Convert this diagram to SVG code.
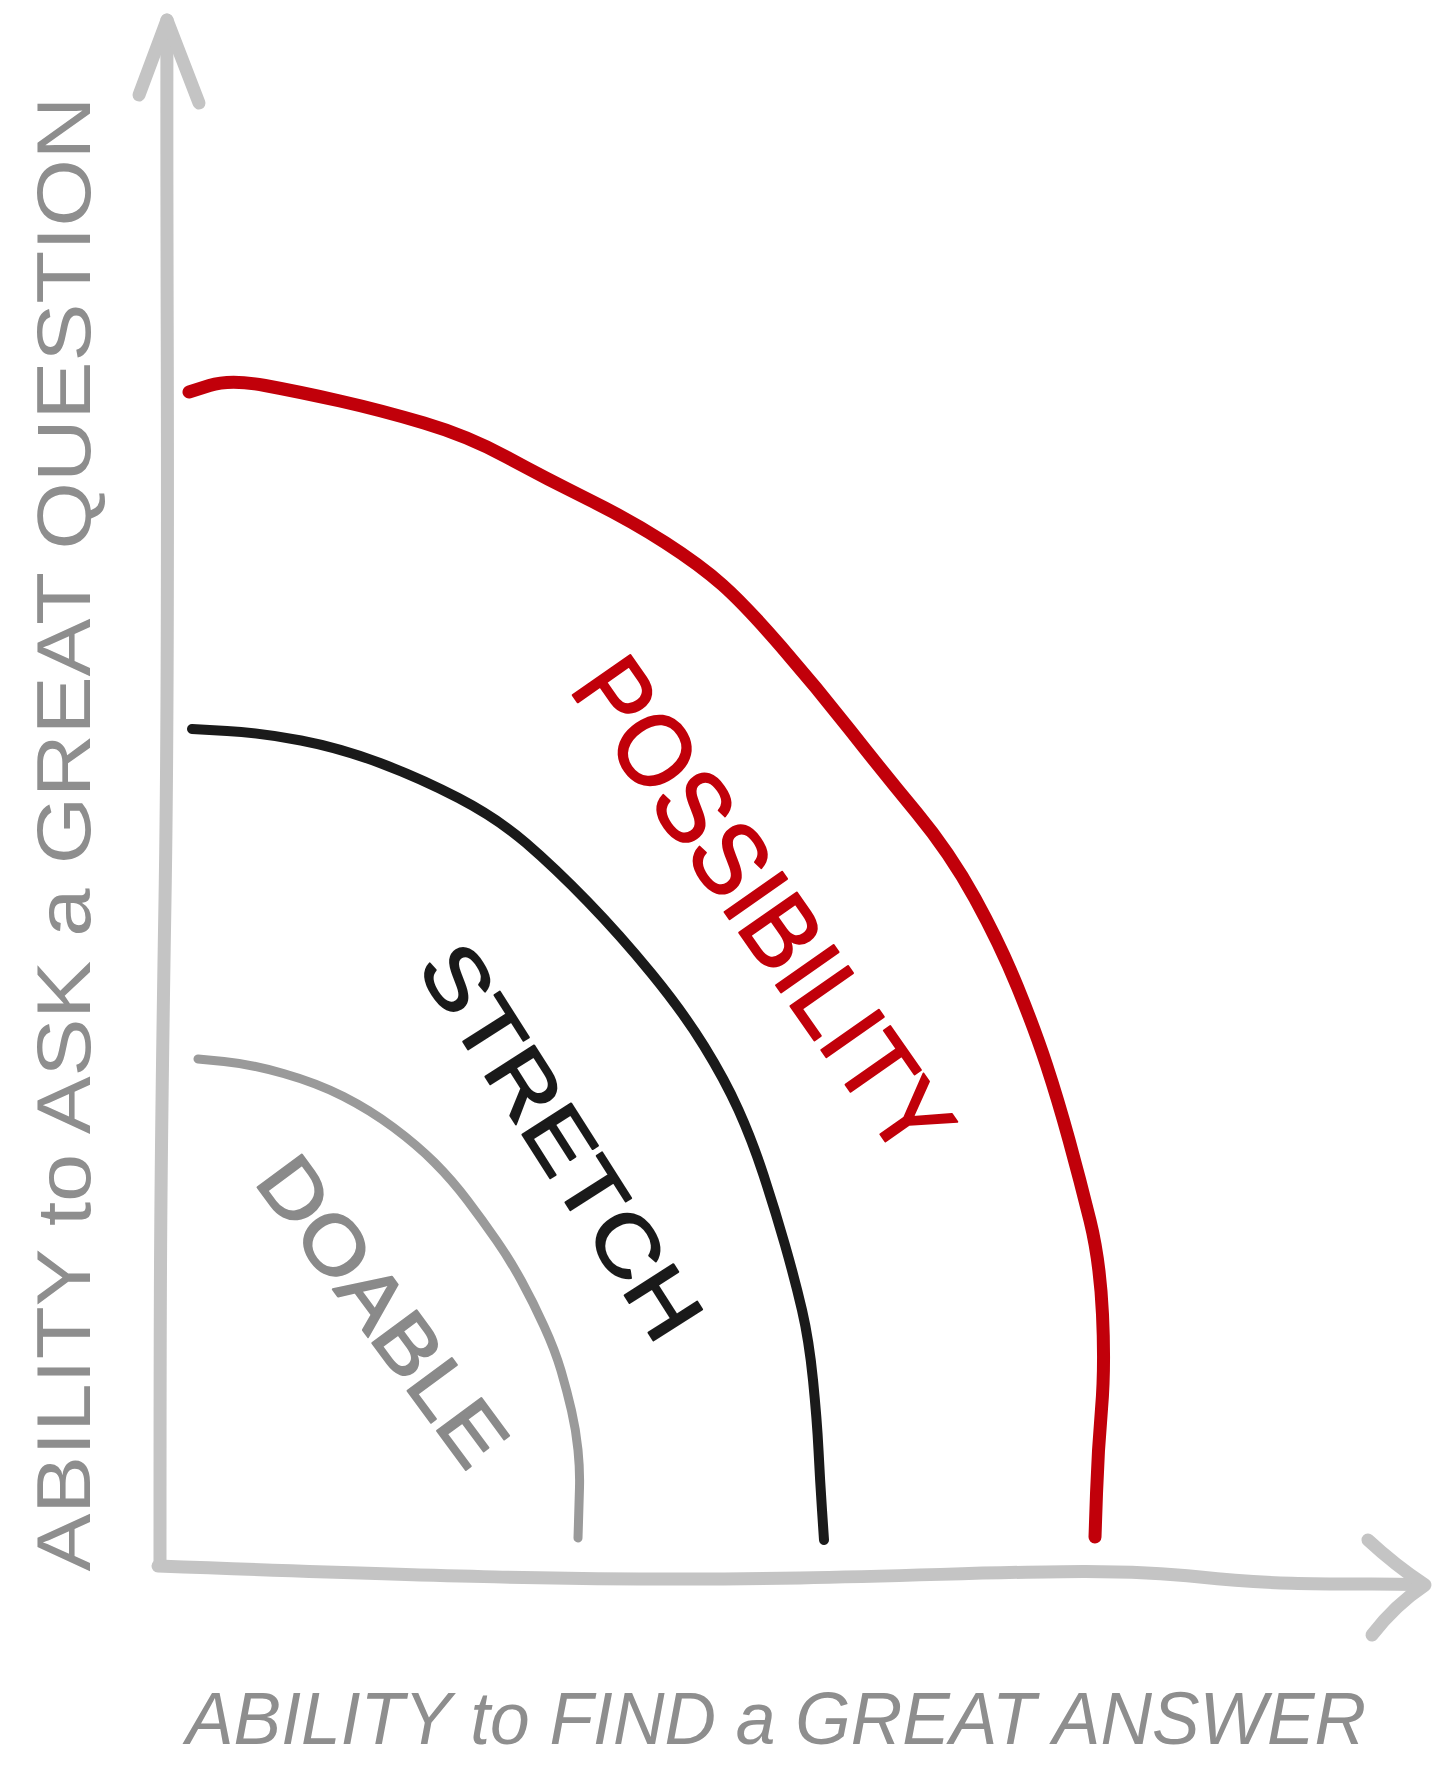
<svg xmlns="http://www.w3.org/2000/svg" width="1442" height="1772" viewBox="0 0 1442 1772">
  <style>
    .axis { fill: none; stroke: #c4c4c4; stroke-width: 13; stroke-linecap: round; stroke-linejoin: round; }
    .curve { fill: none; stroke-linecap: round; stroke-linejoin: round; }
    .lbl { font-family: "Liberation Sans", Arial, sans-serif; stroke-width: 2; stroke-linejoin: round; }
    .axlbl { font-family: "Liberation Sans", Arial, sans-serif; fill: #8e8e8e; }
  </style>
  <rect width="1442" height="1772" fill="#ffffff"/>

  <g id="axes">
    <g id="y-axis">
      <path class="axis" d="M167,20 C166,300 170,600 165,900 S160,1300 160,1565"/>
      <path class="axis" d="M139,95 L167,20 L199,103"/>
    </g>
    <g id="x-axis">
      <path class="axis" d="M158,1566 C400,1575 600,1582 800,1578 S1100,1566 1200,1577 S1380,1582 1424,1585"/>
      <path class="axis" d="M1368,1540 Q1395,1565 1425,1585 Q1395,1605 1372,1635"/>
    </g>
  </g>

  <g id="connectors">
    <path id="curve-possibility" class="curve" stroke="#c1000a" stroke-width="13" d="M189,392 L209.5,385.5 Q230,379 265,385.5 Q300,392 340,401 Q380,410 424,423 Q468,436 506.5,457 Q545,478 587.5,499 Q630,520 665,542.5 Q700,565 722.5,585 Q745,605 781,646.5 Q817,688 850,730 Q883,772 916.5,812.5 Q950,853 975,898.5 Q1000,944 1017.5,987 Q1035,1030 1046.5,1065 Q1058,1100 1069,1140 Q1080,1180 1090,1220.5 Q1100,1261 1102.5,1314.5 Q1105,1368 1101.5,1409 Q1098,1450 1096.5,1493.5 L1095,1537"/>
    <path id="curve-stretch" class="curve" stroke="#1a1a1a" stroke-width="10" d="M192,729 L227,731 Q262,733 301,740.5 Q340,748 380,763 Q420,778 458.5,798 Q497,818 526,843 Q555,868 587.5,901.5 Q620,935 651.5,973.5 Q683,1012 704,1046 Q725,1080 738.5,1110 Q752,1140 763.5,1175 Q775,1210 785,1245 Q795,1280 802,1310 Q809,1340 813,1380 Q817,1420 818.5,1450 Q820,1480 822,1510 L824,1540"/>
    <path id="curve-doable" class="curve" stroke="#9a9a9a" stroke-width="9" d="M198,1059 L224,1061.5 Q250,1064 283.5,1073.5 Q317,1083 343.5,1096.5 Q370,1110 393.5,1127.5 Q417,1145 434.5,1162.5 Q452,1180 467.5,1200.5 Q483,1221 496.5,1240.5 Q510,1260 521.5,1281 Q533,1302 544,1326 Q555,1350 561,1370.5 Q567,1391 571.5,1410.5 Q576,1430 578,1450 Q580,1470 579.5,1487.5 Q579,1505 578.5,1521.5 L578,1538"/>
  </g>

  <g id="label-possibility">
    <text class="lbl" fill="#c1000a" stroke="#c1000a" font-size="102" transform="translate(765,905) rotate(55)" x="0" y="37" text-anchor="middle" textLength="580" lengthAdjust="spacingAndGlyphs">POSSIBILITY</text>
  </g>
  <g id="label-stretch">
    <text class="lbl" fill="#1a1a1a" stroke="#1a1a1a" font-size="84" transform="translate(562,1141) rotate(57.5)" x="0" y="30" text-anchor="middle" textLength="450" lengthAdjust="spacingAndGlyphs">STRETCH</text>
  </g>
  <g id="label-doable">
    <text class="lbl" fill="#8a8a8a" stroke="#8a8a8a" font-size="80" transform="translate(384,1310) rotate(53.6)" x="0" y="29" text-anchor="middle" textLength="362" lengthAdjust="spacingAndGlyphs">DOABLE</text>
  </g>
  <g id="label-y-axis">
    <text class="axlbl" font-size="76" transform="translate(62,834) rotate(-90)" x="0" y="28" text-anchor="middle" textLength="1475" lengthAdjust="spacingAndGlyphs">ABILITY to ASK a GREAT QUESTION</text>
  </g>
  <g id="label-x-axis">
    <text class="axlbl" font-size="75" font-style="italic" x="186" y="1744" textLength="1180" lengthAdjust="spacingAndGlyphs">ABILITY to FIND a GREAT ANSWER</text>
  </g>
</svg>
